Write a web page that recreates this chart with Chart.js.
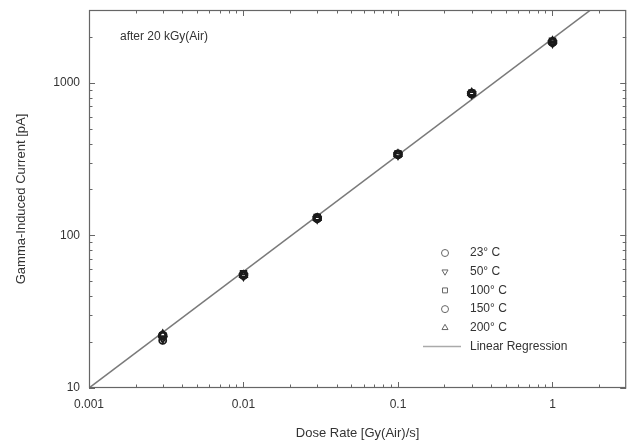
<!DOCTYPE html>
<html>
<head>
<meta charset="utf-8">
<script src="https://cdn.jsdelivr.net/npm/chart.js@4.4.1/dist/chart.umd.min.js"></script>
<style>
  html, body { margin: 0; padding: 0; background: #fff; }
</style>
</head>
<body>
<canvas id="chart" width="632" height="447"></canvas>
<script>
// dose rate in Gy(Air)/s
const doseRates = [0.003, 0.01, 0.03, 0.1, 0.3, 1];
// gamma-induced current in pA, one array per temperature
const current23 = [22, 55, 130, 340, 850, 1850];
const current50 = [21, 54, 128, 336, 842, 1820];
const current100 = [22, 56, 131, 342, 856, 1870];
const current150 = [20.5, 55, 129, 338, 846, 1840];
const current200 = [22.5, 55, 130, 341, 860, 1880];

const seriesNames = ['23° C', '50° C', '100° C', '150° C', '200° C'];
const regressionX = [0.001, 3];
const regressionY = [10, 4500];

const xLabels = [0.001, 0.01, 0.1, 1];
const yLabels = [10, 100, 1000];
const xMinor = [0.002, 0.003, 0.004, 0.005, 0.006, 0.007, 0.008, 0.009,
                0.02, 0.03, 0.04, 0.05, 0.06, 0.07, 0.08, 0.09,
                0.2, 0.3, 0.4, 0.5, 0.6, 0.7, 0.8, 0.9, 2];
const yMinor = [20, 30, 40, 50, 60, 70, 80, 90,
                200, 300, 400, 500, 600, 700, 800, 900, 2000];

const allSeries = [current23, current50, current100, current150, current200];
const markers = [
    { style: 'circle', radius: 4, rotation: 0 },
    { style: 'triangle', radius: 4, rotation: 180 },
    { style: 'rect', radius: 4, rotation: 0 },
    { style: 'circle', radius: 3.5, rotation: 0 },
    { style: 'triangle', radius: 4, rotation: 0 }
];

const datasets = allSeries.map((vals, i) => ({
    label: seriesNames[i],
    data: doseRates.map((x, j) => ({ x: x, y: vals[j] })),
    showLine: false,
    pointStyle: markers[i].style,
    pointRotation: markers[i].rotation,
    pointRadius: markers[i].radius,
    pointBackgroundColor: 'rgba(0,0,0,0)',
    pointBorderColor: '#1a1a1a',
    pointBorderWidth: 1.8
}));

datasets.push({
    label: 'Linear Regression',
    data: regressionX.map((x, j) => ({ x: x, y: regressionY[j] })),
    showLine: true,
    borderColor: '#7a7a7a',
    borderWidth: 1.5,
    pointRadius: 0,
    order: 10
});

const axisColor = '#666';

// box + inward ticks on all four sides
const frameTicks = {
    id: 'frameTicks',
    afterDraw(chart) {
        const { ctx, chartArea: a, scales } = chart;
        ctx.save();
        ctx.strokeStyle = axisColor;
        ctx.lineWidth = 1.2;
        ctx.strokeRect(a.left + 0.5, a.top + 0.5, a.right - a.left - 1, a.bottom - a.top - 1);
        ctx.lineWidth = 1;
        const tick = (vals, len, horiz) => {
            vals.forEach(v => {
                if (horiz) {
                    const px = Math.round(scales.x.getPixelForValue(v)) + 0.5;
                    ctx.beginPath();
                    ctx.moveTo(px, a.bottom); ctx.lineTo(px, a.bottom - len);
                    ctx.moveTo(px, a.top); ctx.lineTo(px, a.top + len);
                    ctx.stroke();
                } else {
                    const py = Math.round(scales.y.getPixelForValue(v)) + 0.5;
                    ctx.beginPath();
                    ctx.moveTo(a.left, py); ctx.lineTo(a.left + len, py);
                    ctx.moveTo(a.right, py); ctx.lineTo(a.right - len, py);
                    ctx.stroke();
                }
            });
        };
        tick(xLabels, 6, true);
        tick(xMinor, 3.5, true);
        tick(yLabels, 6, false);
        tick(yMinor, 3.5, false);
        ctx.restore();
    }
};

// legend inside the plot + annotation
const insideLegend = {
    id: 'insideLegend',
    afterDraw(chart) {
        const { ctx } = chart;
        ctx.save();
        ctx.font = '12px "Liberation Sans", Arial, sans-serif';
        ctx.fillStyle = '#333';
        ctx.textBaseline = 'middle';
        ctx.textAlign = 'left';
        ctx.fillText('after 20 kGy(Air)', 120, 37);

        const mx = 445, tx = 470, y0 = 253, step = 18.7;
        chart.data.datasets.forEach((ds, i) => {
            const y = y0 + i * step;
            if (ds.showLine) {
                ctx.strokeStyle = '#aaa';
                ctx.lineWidth = 1.5;
                ctx.beginPath();
                ctx.moveTo(423, y); ctx.lineTo(461, y);
                ctx.stroke();
            } else {
                ctx.fillStyle = 'rgba(0,0,0,0)';
                ctx.strokeStyle = '#666';
                ctx.lineWidth = 1;
                Chart.helpers.drawPoint(ctx, {
                    pointStyle: ds.pointStyle,
                    radius: 3.5,
                    rotation: ds.pointRotation,
                    borderWidth: 1
                }, mx, y);
            }
            ctx.fillStyle = '#333';
            ctx.fillText(ds.label, tx, y);
        });
        ctx.restore();
    }
};

new Chart(document.getElementById('chart'), {
    type: 'scatter',
    data: { datasets: datasets },
    options: {
        responsive: false,
        animation: false,
        layout: { padding: { top: 10, right: -2, left: 0, bottom: 0 } },
        plugins: {
            legend: { display: false },
            tooltip: { enabled: false }
        },
        scales: {
            x: {
                type: 'logarithmic',
                min: 0.001,
                max: 3,
                afterBuildTicks: s => { s.ticks = xLabels.map(v => ({ value: v })); },
                afterFit: s => { s.height = 59; s.paddingLeft = 0; s.paddingRight = 0; },
                grid: { display: false, drawTicks: false },
                border: { display: false },
                ticks: {
                    autoSkip: false,
                    maxRotation: 0,
                    padding: 9,
                    color: '#333',
                    font: { family: '"Liberation Sans", Arial, sans-serif', size: 12 },
                    callback: v => String(v)
                },
                title: {
                    display: true,
                    text: 'Dose Rate [Gy(Air)/s]',
                    color: '#333',
                    font: { family: '"Liberation Sans", Arial, sans-serif', size: 13 },
                    padding: { top: 0, bottom: 6 }
                }
            },
            y: {
                type: 'logarithmic',
                min: 10,
                max: 3000,
                afterBuildTicks: s => { s.ticks = yLabels.map(v => ({ value: v })); },
                afterFit: s => { s.width = 89; s.paddingTop = 0; s.paddingBottom = 0; },
                grid: { display: false, drawTicks: false },
                border: { display: false },
                ticks: {
                    autoSkip: false,
                    padding: 9,
                    color: '#333',
                    font: { family: '"Liberation Sans", Arial, sans-serif', size: 12 },
                    callback: v => String(v)
                },
                title: {
                    display: true,
                    text: 'Gamma-Induced Current [pA]',
                    color: '#333',
                    font: { family: '"Liberation Sans", Arial, sans-serif', size: 13 },
                    padding: { top: 14, bottom: 0 }
                }
            }
        }
    },
    plugins: [frameTicks, insideLegend]
});
</script>
</body>
</html>
